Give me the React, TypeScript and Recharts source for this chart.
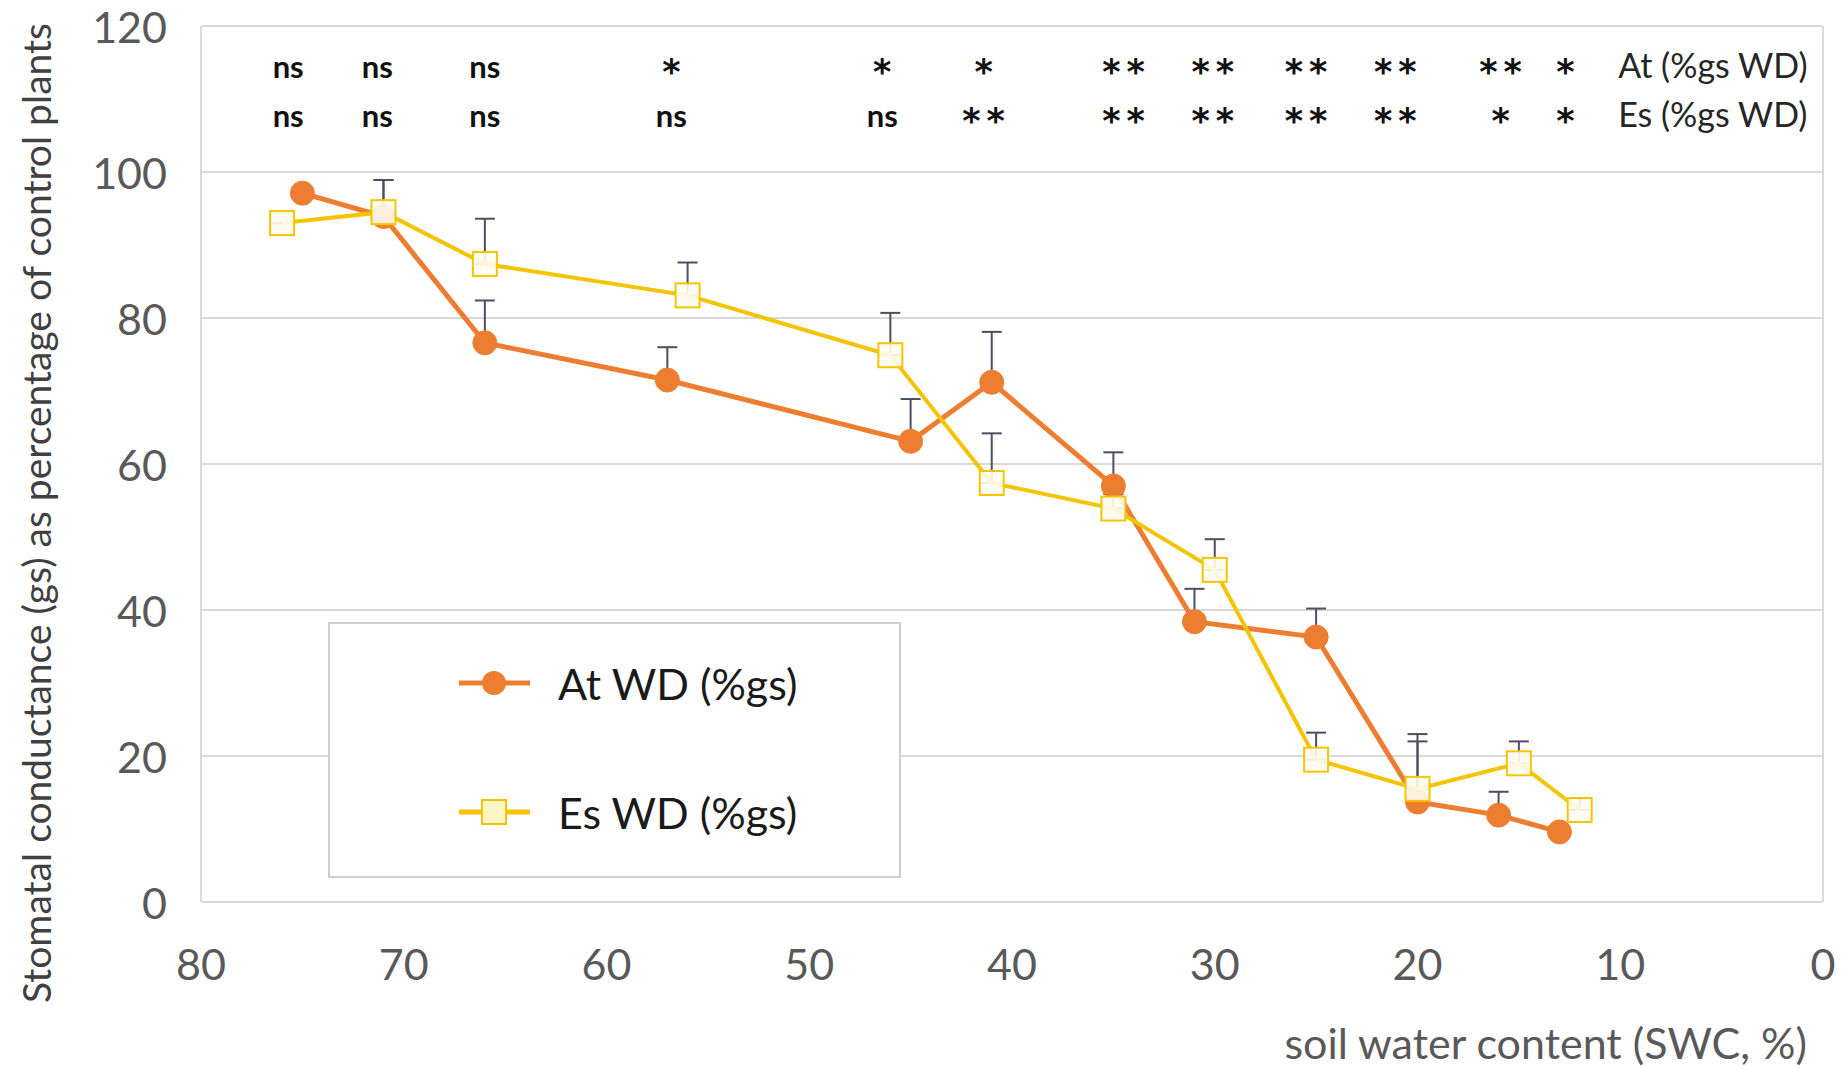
import React from 'react';
import {
  ComposedChart,
  Line,
  Scatter,
  XAxis,
  YAxis,
  CartesianGrid,
  ReferenceLine,
  ErrorBar,
  Legend,
  Label,
} from 'recharts';

// soil water content (%) and gs as % of control
const atSwc = [75, 71, 66, 57, 45, 41, 35, 31, 25, 20, 16, 13];
const atGs = [97.1, 93.9, 76.6, 71.5, 63.1, 71.2, 57.0, 38.4, 36.3, 13.7, 11.9, 9.6];
const atErr = [0, 5.0, 5.8, 4.5, 5.8, 6.9, 4.6, 4.5, 3.9, 8.3, 3.2, 0];

const esSwc = [76, 71, 66, 56, 46, 41, 35, 30, 25, 20, 15, 12];
const esGs = [93.0, 94.5, 87.4, 83.1, 74.9, 57.4, 53.9, 45.5, 19.5, 15.5, 19.0, 12.6];
const esErr = [0, 4.4, 6.2, 4.5, 5.8, 6.8, 2.0, 4.2, 3.7, 7.5, 3.0, 1.6];

// significance marks above the curves
const sigSwc = [75.7, 71.3, 66.0, 56.8, 46.4, 41.4, 34.5, 30.1, 25.5, 21.1, 15.9, 12.7];
const atSig = ['ns', 'ns', 'ns', '*', '*', '*', '**', '**', '**', '**', '**', '*'];
const esSig = ['ns', 'ns', 'ns', 'ns', 'ns', '**', '**', '**', '**', '**', '*', '*'];
const rowNames = ['At (%gs WD)', 'Es (%gs WD)'];
const rowLabelSwc = 10.1;
const rowY = [112.9, 106.2];

const xTicks = [0, 10, 20, 30, 40, 50, 60, 70, 80];
const yTicks = [0, 20, 40, 60, 80, 100, 120];

const AT_COLOR = '#ED7D31';
const ES_COLOR = '#F5C400';
const FONT = 'Lato, "Open Sans", sans-serif';

const atData = atSwc.map((s, i) => ({ swc: s, gs: atGs[i], err: [0, atErr[i]] }));
const esData = esSwc.map((s, i) => ({ swc: s, gs: esGs[i], err: [0, esErr[i]] }));

const sigRow = (marks: string[], row: number) => [
  ...sigSwc.map((s, i) => ({ swc: s, y: rowY[row], label: marks[i], anchor: 'middle' })),
  { swc: rowLabelSwc, y: rowY[row], label: rowNames[row], anchor: 'start' },
];
const atSigData = sigRow(atSig, 0);
const esSigData = sigRow(esSig, 1);

const SigText = (props: any) => {
  const { cx, cy, payload } = props;
  if (payload.anchor === 'start') {
    return (
      <text x={cx} y={cy} fontFamily={FONT} fontSize={34} fill="#262626">
        {payload.label}
      </text>
    );
  }
  if (payload.label.includes('*')) {
    return (
      <text
        x={cx + 3}
        y={cy + 6}
        textAnchor="middle"
        fontFamily='"DejaVu Sans", sans-serif'
        fontSize={35}
        fontWeight={700}
        letterSpacing={6}
        fill="#111"
      >
        {payload.label}
      </text>
    );
  }
  return (
    <text x={cx} y={cy} textAnchor="middle" fontFamily={FONT} fontSize={31} fontWeight={700} fill="#111">
      {payload.label}
    </text>
  );
};

const XTick = ({ x, y, payload }: any) => (
  <text x={x} y={y + 61} textAnchor="middle" dominantBaseline="central" fontFamily={FONT} fontSize={43} fill="#595959">
    {payload.value}
  </text>
);

const YTick = ({ x, y, payload }: any) => (
  <text x={x - 34} y={y} textAnchor="end" dominantBaseline="central" fontFamily={FONT} fontSize={43} fill="#595959">
    {payload.value}
  </text>
);

const SquareDot = (p: any) => (
  <rect
    key={p.index}
    x={p.cx - 12}
    y={p.cy - 12}
    width={24}
    height={24}
    fill="#FFFDF0"
    fillOpacity={0.9}
    stroke={ES_COLOR}
    strokeWidth={2}
  />
);

const LegendBox = ({ payload }: any) => {
  const items = (payload || []).filter((e: any) => e.type !== 'none');
  return (
    <div style={{ width: 573, height: 256, border: '2px solid #cfcfcf', background: '#fff', boxSizing: 'border-box' }}>
      <svg width={569} height={252}>
        {items.map((e: any, i: number) => {
          const cy = 59 + i * 129;
          return (
            <g key={e.value}>
              <line x1={129} x2={200} y1={cy} y2={cy} stroke={e.color} strokeWidth={5} />
              {i === 0 ? (
                <circle cx={164} cy={cy} r={12} fill={AT_COLOR} />
              ) : (
                <rect x={152} y={cy - 12} width={24} height={24} fill="#FFF6C8" stroke={ES_COLOR} strokeWidth={2} />
              )}
              <text x={228} y={cy} dominantBaseline="central" fontFamily={FONT} fontSize={43} fill="#1a1a1a">
                {e.value}
              </text>
            </g>
          );
        })}
      </svg>
    </div>
  );
};

export default function App() {
  return (
    <div style={{ position: 'absolute', left: 0, top: 0, width: 1846, height: 1070, background: '#fff' }}>
      <ComposedChart width={1846} height={1070} margin={{ top: 26, right: 23, left: 0, bottom: 0 }}>
        <CartesianGrid vertical={false} stroke="#d9d9d9" strokeWidth={2} />
        <XAxis
          type="number"
          dataKey="swc"
          domain={[0, 80]}
          ticks={xTicks}
          reversed
          height={168}
          axisLine={false}
          tickLine={false}
          tickSize={0}
          tickMargin={0}
          tick={<XTick />}
          interval={0}
        >
          <Label
            content={() => (
              <text x={1807} y={1042} textAnchor="end" dominantBaseline="central" fontFamily={FONT} fontSize={43} fill="#595959">
                soil water content (SWC, %)
              </text>
            )}
          />
        </XAxis>
        <YAxis
          type="number"
          domain={[0, 120]}
          ticks={yTicks}
          width={201}
          axisLine={false}
          tickLine={false}
          tickSize={0}
          tickMargin={0}
          tick={<YTick />}
          interval={0}
        >
          <Label
            content={() => (
              <text
                x={36}
                y={513}
                transform="rotate(-90 36 513)"
                textAnchor="middle"
                dominantBaseline="central"
                fontFamily={FONT}
                fontSize={39}
                fill="#404040"
              >
                Stomatal conductance (gs) as percentage of control plants
              </text>
            )}
          />
        </YAxis>
        <ReferenceLine x={80} stroke="#d9d9d9" strokeWidth={2} />
        <ReferenceLine x={0} stroke="#d9d9d9" strokeWidth={2} />
        <ReferenceLine y={120} stroke="#d9d9d9" strokeWidth={2} />
        <ReferenceLine y={0} stroke="#d9d9d9" strokeWidth={2} />
        <Legend
          layout="horizontal"
          verticalAlign="middle"
          align="center"
          content={<LegendBox />}
          wrapperStyle={{ position: 'absolute', left: 328, top: 622, width: 573, height: 256, bottom: 'auto' }}
        />
        <Line
          data={atData}
          dataKey="gs"
          name="At WD (%gs)"
          stroke={AT_COLOR}
          strokeWidth={5}
          dot={{ r: 12, fill: AT_COLOR, stroke: AT_COLOR, strokeWidth: 1 }}
          isAnimationActive={false}
        >
          <ErrorBar dataKey="err" direction="y" width={10} stroke="#4a5060" strokeWidth={2} />
        </Line>
        <Line
          data={esData}
          dataKey="gs"
          name="Es WD (%gs)"
          stroke={ES_COLOR}
          strokeWidth={4}
          dot={SquareDot}
          isAnimationActive={false}
        >
          <ErrorBar dataKey="err" direction="y" width={10} stroke="#4a5060" strokeWidth={2} />
        </Line>
        <Scatter data={atSigData} dataKey="y" legendType="none" shape={SigText} isAnimationActive={false} />
        <Scatter data={esSigData} dataKey="y" legendType="none" shape={SigText} isAnimationActive={false} />
      </ComposedChart>
    </div>
  );
}
